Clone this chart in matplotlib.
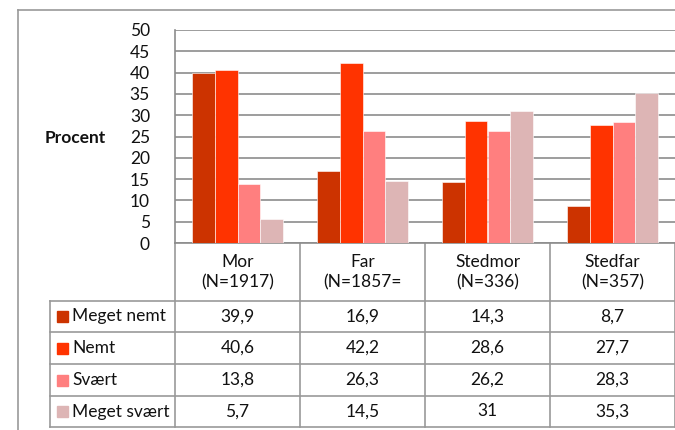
import numpy as np
import matplotlib.pyplot as plt
from matplotlib.patches import Rectangle

plt.rcParams['font.family'] = ['Lato', 'DejaVu Sans']

# Data
categories = ['Mor\n(N=1917)', 'Far\n(N=1857=', 'Stedmor\n(N=336)', 'Stedfar\n(N=357)']
series = ['Meget nemt', 'Nemt', 'Svært', 'Meget svært']
meget_nemt = [39.9, 16.9, 14.3, 8.7]
nemt = [40.6, 42.2, 28.6, 27.7]
svaert = [13.8, 26.3, 26.2, 28.3]
meget_svaert = [5.7, 14.5, 31, 35.3]
colors = ['#CC3300', '#FF3300', '#FF7F7F', '#DDB5B5']
values = [meget_nemt, nemt, svaert, meget_svaert]

W, H = 675, 430
fig = plt.figure(figsize=(W / 100, H / 100), dpi=100)

# background axes in pixel coords for table / frame
bg = fig.add_axes([0, 0, 1, 1])
bg.set_xlim(0, W)
bg.set_ylim(H, 0)
bg.axis('off')

grid_c = '#8c8c8c'
fs = 12.5
# outer frame
bg.plot([18, 18], [10, H], color='#999999', lw=1.2)
bg.plot([18, W], [10, 10], color='#999999', lw=1.2)

# chart area
x0, x1, y_top, y_bot = 175, 675, 30, 243
ax = fig.add_axes([x0 / W, 1 - y_bot / H, (x1 - x0) / W, (y_bot - y_top) / H])
n = len(categories)
bw = 0.182
x = np.arange(n) + 0.5
for i, (vals, c) in enumerate(zip(values, colors)):
    ax.bar(x + (i - 1.5) * bw, vals, bw, color=c, edgecolor='white', linewidth=0.4, zorder=3)
ax.set_xlim(0, n)
ax.set_ylim(0, 50)
ax.set_yticks(range(0, 51, 5))
ax.set_xticks([])
ax.yaxis.grid(True, color=grid_c, lw=1.2, zorder=0)
ax.tick_params(axis='y', length=0, labelsize=12.5, pad=18, colors='#111111')
for s in ['left', 'bottom']:
    ax.spines[s].set_color(grid_c)
    ax.spines[s].set_linewidth(1.2)
ax.spines['top'].set_visible(False)
ax.spines['right'].set_visible(False)

bg.text(75, 138, 'Procent', fontsize=fs, fontweight='bold', ha='center', va='center', color='#111111')

# table
col_w = (x1 - x0) / n
row_ys = [301, 332, 364, 396, 427]
lc = '#999999'
for k in range(n + 1):
    xx = x0 + k * col_w
    bg.plot([xx, xx], [y_bot, row_ys[-1]], color=lc, lw=1.2)
bg.plot([50, 50], [row_ys[0], row_ys[-1]], color=lc, lw=1.2)
for yy in row_ys:
    bg.plot([50, W], [yy, yy], color=lc, lw=1.2)

for k, cat in enumerate(categories):
    cx = x0 + (k + 0.5) * col_w
    bg.text(cx, (y_bot + row_ys[0]) / 2, cat, fontsize=fs, ha='center', va='center',
            linespacing=1.3, color='#111111')

for r, (name, vals, c) in enumerate(zip(series, values, colors)):
    cy = (row_ys[r] + row_ys[r + 1]) / 2
    bg.add_patch(Rectangle((57, cy - 5.5), 11, 11, color=c))
    bg.text(72, cy, name, fontsize=fs, ha='left', va='center', color='#111111')
    for k, v in enumerate(vals):
        cx = x0 + (k + 0.5) * col_w
        txt = ('%g' % v).replace('.', ',')
        bg.text(cx, cy, txt, fontsize=fs, ha='center', va='center', color='#111111')

fig.savefig('out.png', dpi=100)
